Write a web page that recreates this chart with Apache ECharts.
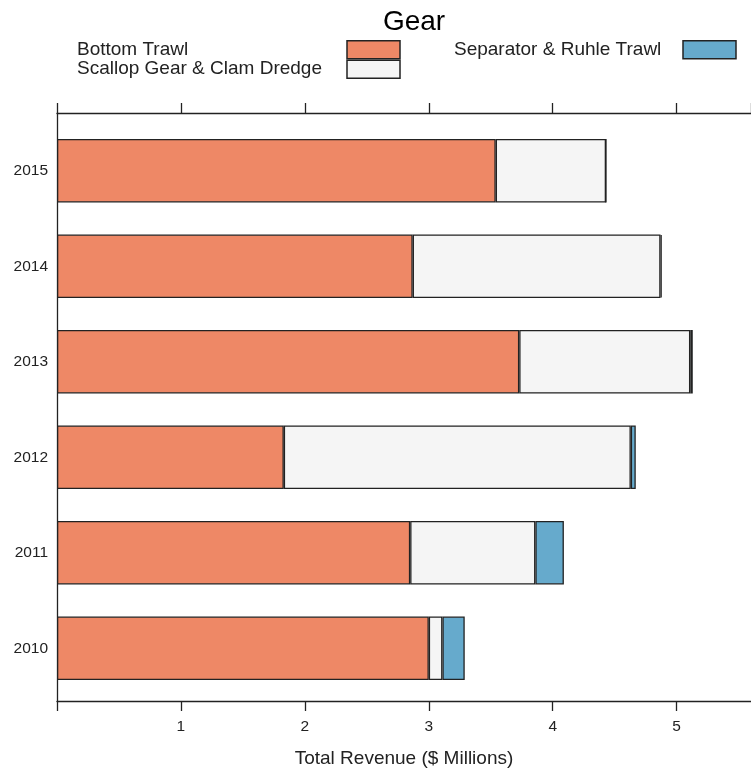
<!DOCTYPE html>
<html>
<head>
<meta charset="utf-8">
<script src="https://cdn.jsdelivr.net/npm/echarts@6/dist/echarts.min.js"></script>
<style>
  html, body { margin: 0; padding: 0; background: #fff; }
  #chart { width: 751px; height: 773px; }
</style>
</head>
<body>
<div id="chart"></div>
<script>
// Revenue by gear type, $ millions
const years = ['2010', '2011', '2012', '2013', '2014', '2015'];
const bottomTrawl = [3.00, 2.85, 1.83, 3.73, 2.87, 3.54];
const scallopClam = [0.11, 1.01, 2.80, 1.38, 2.00, 0.89];
const separatorRuhle = [0.18, 0.23, 0.04, 0.02, 0.01, 0];
const xTicks = [1, 2, 3, 4, 5];

const seriesNames = ['Bottom Trawl', 'Scallop Gear & Clam Dredge', 'Separator & Ruhle Trawl'];
const colors = ['#EE8866', '#F5F5F5', '#66AACC'];
const ink = '#222';
const font = 'Liberation Sans, Arial, sans-serif';
const X_MAX = 5.6;

const chart = echarts.init(document.getElementById('chart'), null, { renderer: 'canvas' });

function legendBlock(left, names, textWidth) {
  return {
    orient: 'vertical',
    left: left,
    top: 40,
    padding: 0,
    align: 'right',
    itemWidth: 53,
    itemHeight: 18,
    itemGap: 0,
    icon: 'rect',
    selectedMode: false,
    data: names,
    itemStyle: { borderColor: ink, borderWidth: 1.5 },
    textStyle: {
      fontFamily: font, fontSize: 19, color: ink, lineHeight: 18,
      rich: { n: { width: textWidth, align: 'left', fontFamily: font, fontSize: 19, color: ink, lineHeight: 18 } }
    },
    formatter: name => '{n|' + name + '}'
  };
}

const barData = [bottomTrawl, scallopClam, separatorRuhle];

chart.setOption({
  backgroundColor: '#fff',
  animation: false,
  title: {
    text: 'Gear',
    left: 409, top: 3,
    textAlign: 'center',
    textStyle: { fontFamily: font, fontSize: 28, fontWeight: 'normal', color: '#000' }
  },
  legend: [
    legendBlock(77, seriesNames.slice(0, 2), 265),
    legendBlock(454, [seriesNames[2]], 224)
  ],
  grid: [
    // frame with axes
    { left: 57, right: 0, top: 113, bottom: 67.5 },
    // bars
    { left: 57, right: 0, top: 123, bottom: 77 }
  ],
  xAxis: [
    {
      gridIndex: 0, type: 'value', position: 'bottom',
      min: 0, max: X_MAX, interval: 1,
      axisLine: { show: true, lineStyle: { color: ink, width: 1.3 } },
      axisTick: { show: true, length: 10, lineStyle: { color: ink, width: 1.3 } },
      axisLabel: {
        margin: 18, fontFamily: font, fontSize: 15.5, color: ink,
        showMaxLabel: false,
        formatter: v => (xTicks.indexOf(v) >= 0 ? String(v) : '')
      },
      splitLine: { show: false },
      name: 'Total Revenue ($ Millions)',
      nameLocation: 'middle', nameGap: 48,
      nameTextStyle: { fontFamily: font, fontSize: 19, color: ink }
    },
    {
      gridIndex: 0, type: 'value', position: 'top',
      min: 0, max: X_MAX, interval: 1,
      axisLine: { show: true, lineStyle: { color: ink, width: 1.3 } },
      axisTick: { show: true, length: 10, lineStyle: { color: ink, width: 1.3 } },
      axisLabel: { show: false },
      splitLine: { show: false }
    },
    {
      gridIndex: 1, type: 'value', min: 0, max: X_MAX,
      show: false
    }
  ],
  yAxis: [
    {
      gridIndex: 0, type: 'value', min: 0, max: 1,
      axisLine: { show: true, lineStyle: { color: ink, width: 1.3 } },
      axisTick: { show: false }, axisLabel: { show: false },
      splitLine: { show: false }
    },
    {
      gridIndex: 1, type: 'category', data: years,
      axisLine: { show: false }, axisTick: { show: false },
      axisLabel: { margin: 9, fontFamily: font, fontSize: 15.5, color: ink },
      splitLine: { show: false }
    }
  ],
  series: seriesNames.map((name, i) => ({
    name: name,
    type: 'bar',
    stack: 'gear',
    xAxisIndex: 2,
    yAxisIndex: 1,
    barCategoryGap: '33.5%',
    data: barData[i],
    itemStyle: { color: colors[i], borderColor: ink, borderWidth: 1.3 },
    emphasis: { disabled: true }
  }))
});
</script>
</body>
</html>
